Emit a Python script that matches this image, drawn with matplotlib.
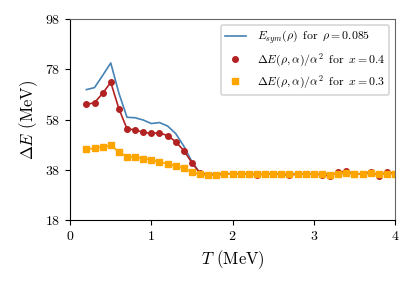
import numpy as np
import matplotlib
matplotlib.use('Agg')
import matplotlib.pyplot as plt
from matplotlib.lines import Line2D

plt.rcParams['font.family'] = 'serif'
plt.rcParams['font.serif'] = ['cmr10']
plt.rcParams['mathtext.fontset'] = 'cm'
plt.rcParams['axes.formatter.use_mathtext'] = True

T = [0.2, 0.3, 0.4, 0.5, 0.6, 0.7, 0.8, 0.9, 1.0, 1.1, 1.2, 1.3, 1.4, 1.5, 1.6, 1.7, 1.8, 1.9,
     2.0, 2.1, 2.2, 2.3, 2.4, 2.5, 2.6, 2.7, 2.8, 2.9, 3.0, 3.1, 3.2, 3.3, 3.4, 3.5, 3.6, 3.7,
     3.8, 3.9, 4.0]

esym = [69.9, 70.7, 75.5, 80.5, 68.5, 58.9, 58.7, 57.8, 56.4, 56.8, 55.4, 52.4, 47.4, 41.2, 36.6,
        36.4, 36.4, 36.5, 36.5, 36.5, 36.5, 36.5, 36.5, 36.5, 36.5, 36.5, 36.5, 36.5, 36.5, 36.5,
        36.5, 36.5, 36.5, 36.5, 36.5, 36.5, 36.5, 36.5, 36.5]

dE_x04 = [64.0, 64.7, 68.4, 72.8, 62.3, 54.3, 53.9, 52.9, 52.5, 52.7, 51.6, 49.2, 45.6, 40.8, 36.6,
          35.9, 36.0, 36.3, 36.4, 36.4, 36.3, 36.0, 36.3, 36.3, 36.2, 35.8, 36.4, 36.3, 36.3, 36.0,
          35.5, 37.0, 37.5, 36.4, 36.4, 37.2, 35.6, 37.2, 36.5]

dE_x03 = [46.3, 46.5, 47.2, 47.7, 45.2, 43.2, 43.2, 42.5, 41.9, 41.2, 40.3, 39.6, 38.6, 37.1, 36.2,
          35.9, 35.9, 36.2, 36.4, 36.4, 36.4, 36.3, 36.3, 36.4, 36.3, 36.3, 36.4, 36.4, 36.4, 36.4,
          36.0, 36.5, 36.8, 36.5, 36.4, 36.6, 36.2, 36.5, 36.5]

labels = [r'$E_{sym}(\rho)\;\;\mathrm{for}\;\;\rho = 0.085$',
          r'$\Delta E(\rho,\alpha)/\alpha^2\;\;\mathrm{for}\;\;x = 0.4$',
          r'$\Delta E(\rho,\alpha)/\alpha^2\;\;\mathrm{for}\;\;x = 0.3$']

blue, red, orange = '#4682B4', '#B22222', '#FFA500'

fig = plt.figure(figsize=(4.15, 2.87), dpi=100)
ax = fig.add_axes([0.169, 0.233, 0.783, 0.701])

ax.plot(T, esym, color=blue, lw=1.2)
ax.plot(T, dE_x04, color=red, marker='o', ms=4, lw=1.2)
ax.plot(T, dE_x03, color=orange, marker='s', ms=4, lw=1.2)

ax.set_xlim(0, 4)
ax.set_ylim(18, 98)
ax.set_xticks([0, 1, 2, 3, 4])
ax.set_yticks([18, 38, 58, 78, 98])
ax.set_xlabel(r'$T$ (MeV)', fontsize=12)
ax.set_ylabel(r'$\Delta E$ (MeV)', fontsize=12)
ax.tick_params(labelsize=10)

for s in ['top', 'right']:
    ax.spines[s].set_color('#666666')

handles = [Line2D([], [], color=blue, lw=1.2),
           Line2D([], [], color=red, marker='o', ls='none', ms=4),
           Line2D([], [], color=orange, marker='s', ls='none', ms=4)]
leg = ax.legend(handles, labels, loc='upper right', fontsize=8.5, handlelength=1.8,
                borderpad=0.35, labelspacing=0.45, handletextpad=0.9)
leg.get_frame().set_edgecolor('#cccccc')
leg.get_frame().set_linewidth(1.2)

plt.savefig('out.png', dpi=100)
